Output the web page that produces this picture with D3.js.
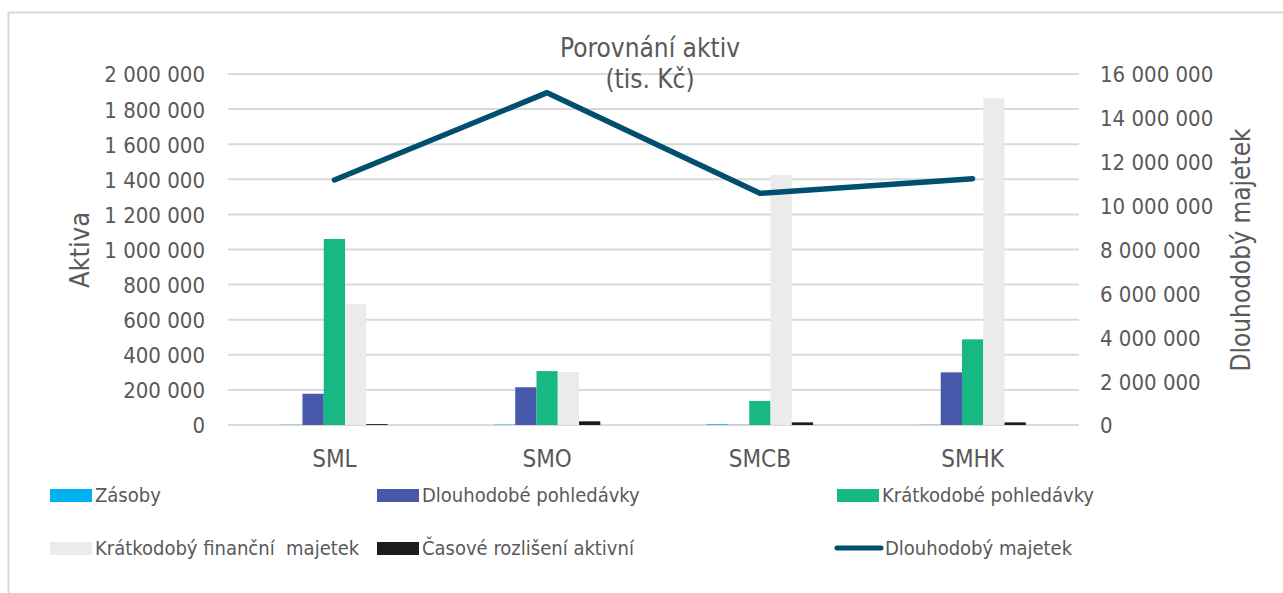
<!DOCTYPE html>
<html>
<head>
<meta charset="utf-8">
<script src="https://cdn.jsdelivr.net/npm/d3@7"></script>
<style>
  body { margin: 0; background: #fff; }
  svg text { font-family: "DejaVu Sans Condensed", "DejaVu Sans", sans-serif; fill: #595959; white-space: pre; }
</style>
</head>
<body>
<div id="chart"></div>
<script>
// categories and series
var categories = ['SML', 'SMO', 'SMCB', 'SMHK'];
var barSeries = ['Zásoby', 'Dlouhodobé pohledávky', 'Krátkodobé pohledávky', 'Krátkodobý finanční  majetek', 'Časové rozlišení aktivní'];
var lineSeries = 'Dlouhodobý majetek';

// values (tis. Kč)
var zasoby = [1000, 2000, 4000, 1000];
var dlouhPohl = [178000, 215000, 500, 300000];
var kratPohl = [1060000, 307000, 137000, 488000];
var kratFin = [689000, 302000, 1424000, 1862000];
var casRozl = [5000, 21000, 15000, 15000];
var dlouhMaj = [11170000, 15150000, 10560000, 11230000];

var leftTicks = [0, 200000, 400000, 600000, 800000, 1000000, 1200000, 1400000, 1600000, 1800000, 2000000];
var rightTicks = [0, 2000000, 4000000, 6000000, 8000000, 10000000, 12000000, 14000000, 16000000];

var colors = ['#00b0f0', '#4659aa', '#17b884', '#ebebeb', '#1c1c1c'];
var lineColor = '#004f6e';

var W = 1283, H = 593;
var plot = { left: 228, right: 1079, top: 74, bottom: 425 };

var fmt = function(v) { return d3.format(',')(v).replace(/,/g, ' '); };

var svg = d3.select('#chart').append('svg')
  .attr('width', W).attr('height', H);

// frame
svg.append('rect')
  .attr('x', 8.5).attr('y', 12.5)
  .attr('width', W + 20).attr('height', H + 20)
  .attr('fill', 'none').attr('stroke', '#d9d9d9').attr('stroke-width', 2);

var x0 = d3.scaleBand().domain(categories).range([plot.left, plot.right]);
var bw = x0.bandwidth();
var x1 = d3.scaleBand().domain(barSeries).range([bw * 0.25, bw * 0.75]);

var yL = d3.scaleLinear().domain([0, 2000000]).range([plot.bottom, plot.top]);
var yR = d3.scaleLinear().domain([0, 16000000]).range([plot.bottom, plot.top]);

// gridlines
svg.append('g').selectAll('line').data(leftTicks).enter().append('line')
  .attr('x1', plot.left).attr('x2', plot.right)
  .attr('y1', d => yL(d)).attr('y2', d => yL(d))
  .attr('stroke', '#d9d9d9').attr('stroke-width', 2);

// left axis
var axL = svg.append('g').attr('transform', 'translate(' + (plot.left - 23) + ',0)')
  .call(d3.axisLeft(yL).tickValues(leftTicks).tickFormat(fmt).tickSize(0).tickPadding(0));
axL.select('.domain').remove();
axL.selectAll('text').attr('font-size', 22).attr('dy', '0.36em');

// right axis
var axR = svg.append('g').attr('transform', 'translate(' + (plot.right + 21) + ',0)')
  .call(d3.axisRight(yR).tickValues(rightTicks).tickFormat(fmt).tickSize(0).tickPadding(0));
axR.select('.domain').remove();
axR.selectAll('text').attr('font-size', 22).attr('dy', '0.36em');

// category axis
var axX = svg.append('g').attr('transform', 'translate(0,' + (plot.bottom + 25) + ')')
  .call(d3.axisBottom(x0).tickSize(0).tickPadding(0));
axX.select('.domain').remove();
axX.selectAll('text').attr('font-size', 24).attr('dy', '0.71em');

// bars
var seriesData = [zasoby, dlouhPohl, kratPohl, kratFin, casRozl];
var groups = svg.append('g').selectAll('g').data(categories).enter().append('g')
  .attr('transform', d => 'translate(' + x0(d) + ',0)');
groups.selectAll('rect')
  .data((c, i) => barSeries.map((s, j) => ({ s: s, j: j, v: seriesData[j][i] })))
  .enter().append('rect')
  .attr('x', d => x1(d.s))
  .attr('width', x1.bandwidth())
  .attr('y', d => yL(d.v))
  .attr('height', d => plot.bottom - yL(d.v))
  .attr('fill', d => colors[d.j]);

// line
var line = d3.line()
  .x((d, i) => x0(categories[i]) + bw / 2)
  .y(d => yR(d));
svg.append('path').datum(dlouhMaj)
  .attr('d', line)
  .attr('fill', 'none').attr('stroke', lineColor)
  .attr('stroke-width', 5.5).attr('stroke-linecap', 'round').attr('stroke-linejoin', 'round');

// title
svg.append('text').attr('x', 650).attr('y', 57).attr('text-anchor', 'middle')
  .attr('font-size', 26).text('Porovnání aktiv');
svg.append('text').attr('x', 650).attr('y', 88).attr('text-anchor', 'middle')
  .attr('font-size', 26).text('(tis. Kč)');

// axis titles
svg.append('text').attr('transform', 'translate(89,250) rotate(-90)')
  .attr('text-anchor', 'middle').attr('font-size', 27).text('Aktiva');
svg.append('text').attr('transform', 'translate(1250,250) rotate(-90)')
  .attr('text-anchor', 'middle').attr('font-size', 26).text('Dlouhodobý majetek');

// legend
var legendItems = barSeries.map((s, j) => ({ name: s, color: colors[j], type: 'bar' }))
  .concat([{ name: lineSeries, color: lineColor, type: 'line' }]);
var colX = [50, 377, 837];
var rowY = [495, 548];
var leg = svg.append('g').selectAll('g').data(legendItems).enter().append('g')
  .attr('transform', (d, i) => 'translate(' + colX[i % 3] + ',' + rowY[Math.floor(i / 3)] + ')');
leg.filter(d => d.type === 'bar').append('rect')
  .attr('x', 0).attr('y', -6).attr('width', 42).attr('height', 13)
  .attr('fill', d => d.color);
leg.filter(d => d.type === 'line').append('line')
  .attr('x1', 0).attr('x2', 44).attr('y1', 0).attr('y2', 0)
  .attr('stroke', d => d.color).attr('stroke-width', 5).attr('stroke-linecap', 'round');
leg.append('text').attr('x', d => d.type === 'line' ? 48 : 45).attr('y', 0).attr('dy', '0.36em')
  .attr('font-size', 20).text(d => d.name);
</script>
</body>
</html>
